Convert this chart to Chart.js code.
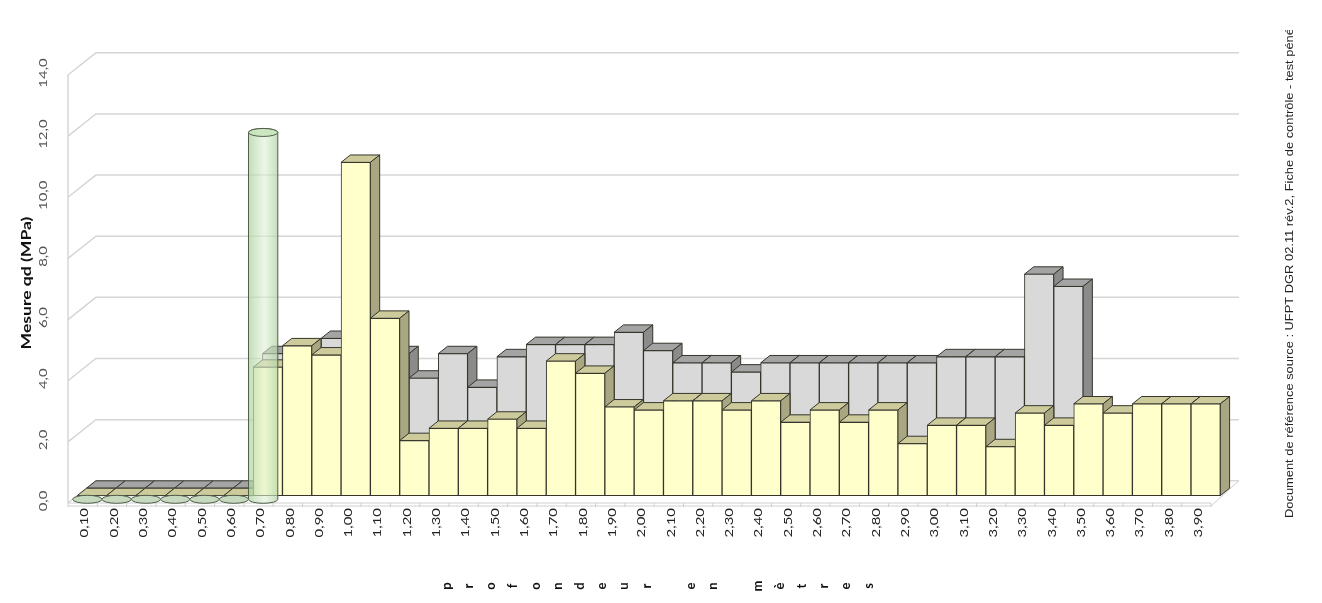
<!DOCTYPE html>
<html>
<head>
<meta charset="utf-8">
<script src="https://cdn.jsdelivr.net/npm/chart.js@4.4.1/dist/chart.umd.min.js"></script>
<style>
  html, body { margin: 0; padding: 0; background: #fff; }
  canvas { display: block; }
</style>
</head>
<body>
<canvas id="qdChart" width="1322" height="603"></canvas>
<script>
// depth labels (m)
const depthLabels = ["0,10","0,20","0,30","0,40","0,50","0,60","0,70","0,80","0,90","1,00",
  "1,10","1,20","1,30","1,40","1,50","1,60","1,70","1,80","1,90","2,00",
  "2,10","2,20","2,30","2,40","2,50","2,60","2,70","2,80","2,90","3,00",
  "3,10","3,20","3,30","3,40","3,50","3,60","3,70","3,80","3,90"];

// measured qd (yellow, middle row)
const qdMesure = [0,0,0,0,0,0,4.2,4.9,4.6,10.9,
  5.8,1.8,2.2,2.2,2.5,2.2,4.4,4.0,2.9,2.8,
  3.1,3.1,2.8,3.1,2.4,2.8,2.4,2.8,1.7,2.3,
  2.3,1.6,2.7,2.3,3.0,2.7,3.0,3.0,3.0];

// reference qd (grey, back row)
const qdReference = [0,0,0,0,0,0,4.4,4.6,4.9,4.7,
  4.4,3.6,4.4,3.3,4.3,4.7,4.7,4.7,5.1,4.5,
  4.1,4.1,3.8,4.1,4.1,4.1,4.1,4.1,4.1,4.3,
  4.3,4.3,7.0,6.6,null,null,null,null,null];

// refusal marker (green cylinder, front row)
const qdRefus = [0,0,0,0,0,0,12.0,null,null,null,
  null,null,null,null,null,null,null,null,null,null,
  null,null,null,null,null,null,null,null,null,null,
  null,null,null,null,null,null,null,null,null];

const yTicks = [0,2,4,6,8,10,12,14];
const yTickLabels = ["0,0","2,0","4,0","6,0","8,0","10,0","12,0","14,0"];

const yTitle = "Mesure qd (MPa)";
const xTitle = "profondeur en mètres";
const sourceNote = "Document de référence source : UFPT DGR 02.11 rév.2, Fiche de contrôle - test pénétrométrique";

// 3D look: one depth row = this shift on screen
const DX = 9.3, DY = 7.4;
const rowOf = [1, 2, 0];            // dataset index -> depth row
const faceColors = [
  { top: "#cdcb9c", side: "#a9a781" },
  { top: "#a4a4a4", side: "#8b8b8b" },
  null
];
const EDGE = "#35352c";

function rotatedText(ctx, text, x, y, font, color, align, stretch) {
  ctx.save();
  ctx.translate(x, y);
  ctx.rotate(-Math.PI / 2);
  ctx.scale(stretch || 1, 1);
  ctx.font = font;
  ctx.fillStyle = color;
  ctx.textAlign = align;
  ctx.textBaseline = "middle";
  ctx.fillText(text, 0, 0);
  ctx.restore();
}

/* ---------- walls, grid, floor ---------- */
const wallPlugin = {
  id: "wall",
  beforeDatasetsDraw(chart) {
    const { ctx, chartArea: a, scales: { y } } = chart;
    const bx = DX * 3, by = DY * 3;
    const step = (a.right - a.left) / depthLabels.length;
    ctx.save();
    ctx.strokeStyle = "#d6d6d6";
    ctx.lineWidth = 1.5;
    yTicks.forEach(v => {
      const py = y.getPixelForValue(v);
      ctx.beginPath();
      ctx.moveTo(a.left, py);
      ctx.lineTo(a.left + bx, py - by);
      ctx.lineTo(a.right + bx, py - by);
      ctx.stroke();
    });
    ctx.beginPath();
    ctx.moveTo(a.left, y.getPixelForValue(14));
    ctx.lineTo(a.left, a.bottom);
    ctx.stroke();

    // floor edge
    ctx.lineWidth = 1;
    ctx.strokeStyle = "#cfcfcf";
    ctx.beginPath();
    ctx.moveTo(a.left, a.bottom); ctx.lineTo(a.right, a.bottom);
    ctx.moveTo(a.left, a.bottom + 3); ctx.lineTo(a.right, a.bottom + 3);
    for (let k = 0; k <= depthLabels.length; k++) {
      const px = a.left + k * step;
      ctx.moveTo(px, a.bottom); ctx.lineTo(px, a.bottom + 4);
    }
    ctx.moveTo(a.right, a.bottom + 3);
    ctx.lineTo(a.right + bx, a.bottom - by);
    ctx.stroke();
    ctx.restore();
  }
};

/* ---------- 3D boxes / cylinders ---------- */
function drawBoxFaces(ctx, meta, data, colors) {
  meta.data.forEach((el, i) => {
    if (data[i] == null) return;
    const { x, y, base, width } = el.getProps(["x", "y", "base", "width"], true);
    const L = x - width / 2, R = x + width / 2;
    ctx.beginPath();
    ctx.moveTo(L, y); ctx.lineTo(R, y);
    ctx.lineTo(R + DX, y - DY); ctx.lineTo(L + DX, y - DY);
    ctx.closePath();
    ctx.fillStyle = colors.top;
    ctx.fill(); ctx.stroke();
    if (base - y > 0.5) {
      ctx.beginPath();
      ctx.moveTo(R, y); ctx.lineTo(R + DX, y - DY);
      ctx.lineTo(R + DX, base - DY); ctx.lineTo(R, base);
      ctx.closePath();
      ctx.fillStyle = colors.side;
      ctx.fill(); ctx.stroke();
    }
  });
}

function drawCylinders(ctx, meta, data) {
  meta.data.forEach((el, i) => {
    if (data[i] == null) return;
    const { x, y, base, width } = el.getProps(["x", "y", "base", "width"], true);
    const cx = x + DX / 2, rx = width / 2, ry = 4;
    const yt = y - DY / 2, yb = base - DY / 2;
    ctx.strokeStyle = "#4f5e4b";
    if (yb - yt > 0.5) {
      const g = ctx.createLinearGradient(cx - rx, 0, cx + rx, 0);
      g.addColorStop(0, "rgba(172,210,158,0.75)");
      g.addColorStop(0.55, "rgba(222,240,212,0.58)");
      g.addColorStop(1, "rgba(176,210,164,0.75)");
      ctx.beginPath();
      ctx.moveTo(cx - rx, yt);
      ctx.lineTo(cx - rx, yb);
      ctx.ellipse(cx, yb, rx, ry, 0, Math.PI, 0, true);
      ctx.lineTo(cx + rx, yt);
      ctx.ellipse(cx, yt, rx, ry, 0, 0, Math.PI, true);
      ctx.closePath();
      ctx.fillStyle = g;
      ctx.fill(); ctx.stroke();
      ctx.beginPath();
      ctx.ellipse(cx, yt, rx, ry, 0, 0, Math.PI * 2);
      ctx.fillStyle = "rgba(200,228,188,0.85)";
      ctx.fill(); ctx.stroke();
    } else {
      ctx.beginPath();
      ctx.ellipse(cx, yb, rx, ry, 0, 0, Math.PI * 2);
      ctx.fillStyle = "#c6d9be";
      ctx.fill(); ctx.stroke();
    }
  });
}

const depthPlugin = {
  id: "depth3d",
  beforeDatasetDraw(chart, args) {
    const ctx = chart.ctx;
    const row = rowOf[args.index];
    const data = chart.data.datasets[args.index].data;
    ctx.save();
    ctx.translate(row * DX, -row * DY);
    ctx.lineWidth = 1;
    ctx.lineJoin = "round";
    ctx.strokeStyle = EDGE;
    if (faceColors[args.index]) drawBoxFaces(ctx, args.meta, data, faceColors[args.index]);
    else drawCylinders(ctx, args.meta, data);
  },
  afterDatasetDraw(chart) {
    chart.ctx.restore();
  }
};

/* ---------- texts ---------- */
const textPlugin = {
  id: "texts",
  afterDraw(chart) {
    const { ctx, scales: { x, y } } = chart;
    yTicks.forEach((v, k) => {
      rotatedText(ctx, yTickLabels[k], 43, y.getPixelForValue(v) - 2,
        "11.5px Lato", "#555555", "center", 1.3);
    });
    depthLabels.forEach((lab, i) => {
      rotatedText(ctx, lab, x.getPixelForValue(i) + 2, 508,
        "11.5px Lato", "#222222", "right", 1.3);
    });
    rotatedText(ctx, yTitle, 27, 283, "bold 13px Lato", "#111111", "center", 1.35);

    // axis title: each letter turned on its side
    const chars = Array.from(xTitle);
    const cStep = 22.2, cx0 = 657.5 - cStep * (chars.length - 1) / 2;
    chars.forEach((c, k) => {
      if (c !== " ") rotatedText(ctx, c, cx0 + k * cStep, 586, "bold 13px Lato", "#111111", "center", 1.0);
    });

    ctx.save();
    ctx.beginPath();
    ctx.rect(1270, 30, 50, 560);
    ctx.clip();
    rotatedText(ctx, sourceNote, 1290, 518, "11.5px 'Liberation Sans'", "#222222", "left", 1.12);
    ctx.restore();
  }
};

const ctx = document.getElementById("qdChart").getContext("2d");
new Chart(ctx, {
  type: "bar",
  data: {
    labels: depthLabels,
    datasets: [
      {
        label: "qd mesuré",
        data: qdMesure,
        order: 2,
        grouped: false,
        clip: false,
        backgroundColor: "#ffffcc",
        borderColor: EDGE,
        borderWidth: 1,
        borderSkipped: false
      },
      {
        label: "qd référence",
        data: qdReference,
        order: 3,
        grouped: false,
        clip: false,
        backgroundColor: "#d9d9d9",
        borderColor: EDGE,
        borderWidth: 1,
        borderSkipped: false
      },
      {
        label: "refus",
        data: qdRefus,
        order: 1,
        grouped: false,
        clip: false,
        backgroundColor: "rgba(0,0,0,0)",
        borderWidth: 0
      }
    ]
  },
  options: {
    responsive: false,
    animation: false,
    devicePixelRatio: 1,
    layout: { padding: { left: 68, right: 111, top: 75, bottom: 100 } },
    datasets: { bar: { barPercentage: 1, categoryPercentage: 1 } },
    plugins: { legend: { display: false }, tooltip: { enabled: false } },
    scales: {
      x: { display: false, offset: true },
      y: { display: false, min: 0, max: 14 }
    }
  },
  plugins: [wallPlugin, depthPlugin, textPlugin]
});
</script>
</body>
</html>
